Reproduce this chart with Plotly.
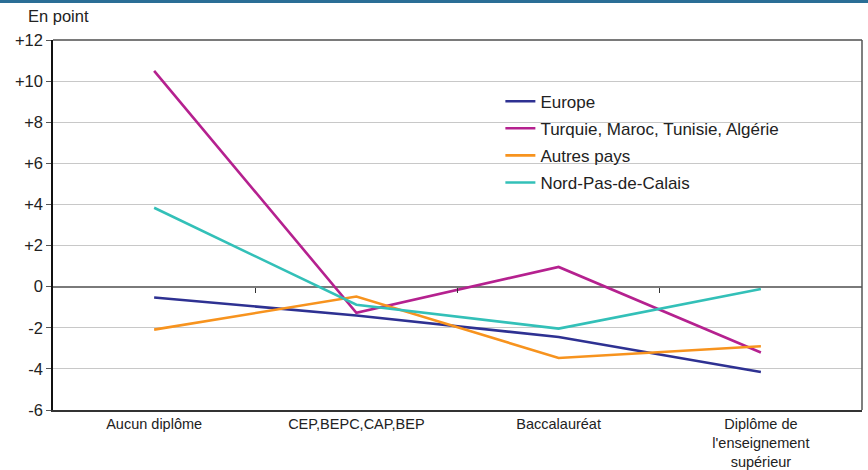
import plotly.graph_objects as go

categories = ["Aucun diplôme", "CEP,BEPC,CAP,BEP", "Baccalauréat", "Diplôme de<br>l'enseignement<br>supérieur"]
europe = [-0.53, -1.4, -2.45, -4.15]
maghreb = [10.5, -1.27, 0.96, -3.2]
autres = [-2.09, -0.48, -3.47, -2.9]
npdc = [3.84, -0.88, -2.04, -0.11]
series_names = ["Europe", "Turquie, Maroc, Tunisie, Algérie", "Autres pays", "Nord-Pas-de-Calais"]
series_colors = ["#2e3192", "#b5218f", "#f7931e", "#33c0b8"]
y_ticks = [-6, -4, -2, 0, 2, 4, 6, 8, 10, 12]
y_ticklabels = ["-6", "-4", "-2", "0", "+2", "+4", "+6", "+8", "+10", "+12"]

xpos = [i + 0.5 for i in range(len(categories))]

fig = go.Figure()
for i, (name, vals, col) in enumerate(zip(series_names, [europe, maghreb, autres, npdc], series_colors)):
    fig.add_trace(go.Scatter(x=xpos, y=vals, mode="lines", name=name,
                             line=dict(color=col, width=2.6), legendgroup=f"g{i}"))

# invisible trace carrying the tick-at-zero axis
fig.add_trace(go.Scatter(x=[0, 4], y=[0, 0], xaxis="x2", mode="lines",
                         line=dict(width=0), showlegend=False, hoverinfo="skip"))

fig.update_layout(
    width=868, height=470,
    margin=dict(l=53, r=6, t=40, b=60, autoexpand=False),
    paper_bgcolor="white", plot_bgcolor="white",
    font=dict(family="Liberation Sans, Arial, sans-serif", size=14, color="#222222"),
    showlegend=True,
    legend=dict(x=0.553, y=0.882, xanchor="left", yanchor="top",
                font=dict(size=17, color="#222222"), tracegroupgap=2,
                bgcolor="rgba(0,0,0,0)", itemwidth=30),
    xaxis=dict(range=[0, 4], tickvals=xpos, ticktext=categories, showgrid=False,
               zeroline=False, ticks="", showline=True, linecolor="#333333", linewidth=1.5,
               mirror=False, tickfont=dict(size=14.5), fixedrange=True, automargin=False),
    xaxis2=dict(range=[0, 4], overlaying="x", anchor="free", position=1/3, side="bottom",
                tickvals=[1, 2, 3], ticks="outside", ticklen=5, tickcolor="#333333",
                showticklabels=False, showline=False, showgrid=False, zeroline=False,
                automargin=False),
    yaxis=dict(range=[-6, 12], tickvals=y_ticks, ticktext=y_ticklabels,
               showgrid=True, gridcolor="#c8c8c8", gridwidth=1,
               zeroline=True, zerolinecolor="#7a7a7a", zerolinewidth=2,
               showline=True, linecolor="#111111", linewidth=1.5,
               ticks="outside", ticklen=5, tickcolor="#555555",
               tickfont=dict(size=16.5), fixedrange=True, automargin=False),
    annotations=[dict(text="En point", xref="paper", yref="paper", x=-0.033, y=1.035,
                      xanchor="left", yanchor="bottom", showarrow=False,
                      font=dict(size=16.5, color="#222222"))],
    shapes=[
        dict(type="line", xref="paper", yref="paper", x0=-0.07, x1=1.01, y0=1.104, y1=1.104,
             line=dict(color="#2a6e96", width=3)),
        dict(type="line", xref="paper", yref="paper", x0=0, x1=1, y0=1, y1=1,
             line=dict(color="#7a7a7a", width=2)),
        dict(type="line", xref="paper", yref="paper", x0=1, x1=1, y0=0, y1=1,
             line=dict(color="#555555", width=1.5)),
    ],
)

fig.write_html("out.html", config={"displayModeBar": False},
               post_script="document.body.style.margin='0px';")
